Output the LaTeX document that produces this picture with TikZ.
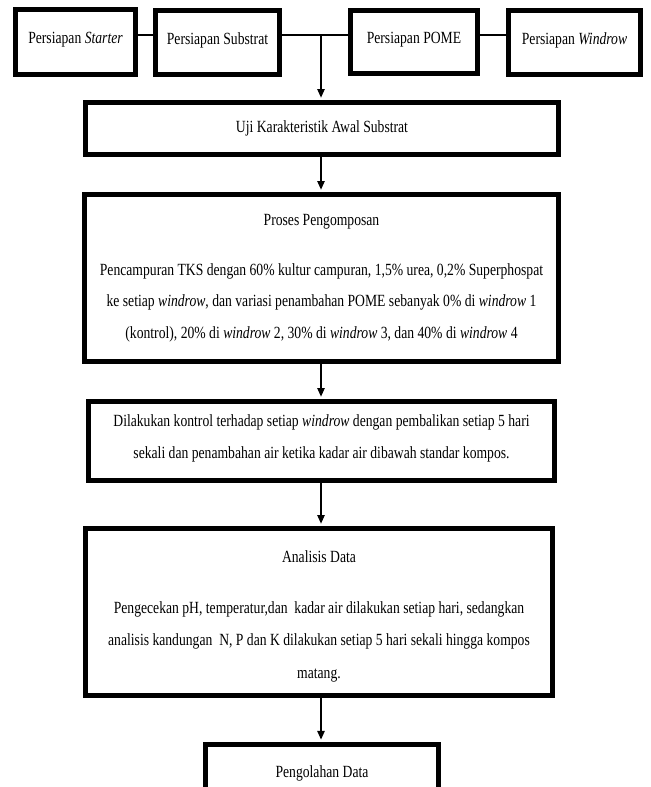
\documentclass[tikz,border=0pt]{standalone}
\usepackage{fontspec}
\setmainfont{Liberation Serif}[FakeStretch=0.8]
\usetikzlibrary{arrows.meta}
\begin{document}
\begin{tikzpicture}[x=0.75pt,y=-0.75pt,
  box/.style={draw=black, line width=3.6pt, fill=white, align=center, inner sep=0pt,
    font=\fontsize{12.8}{23.6}\selectfont},
  wh/.style 2 args={minimum width=#1*0.75pt, minimum height=#2*0.75pt},
  link/.style={line width=1.1pt},
  arr/.style={line width=1.1pt, -{Triangle[length=6.5pt,width=5.5pt]}}]
\useasboundingbox (0,0) rectangle (650,787);
\clip (0,0) rectangle (650,787);
\fill[white] (0,0) rectangle (650,787);

% top row
\node[box, wh={120}{65}] (starter) at (75.5,42) {\raisebox{1.5pt}[\height][\depth]{Persiapan \textit{Starter}}};
\node[box, wh={124}{64}] (substrat) at (217.5,42.5) {\raisebox{1.5pt}[\height][\depth]{Persiapan Substrat}};
\node[box, wh={127}{63}] (pome) at (414,42) {\raisebox{1.5pt}[\height][\depth]{Persiapan POME}};
\node[box, wh={132}{64}] (windrow) at (574.5,42.5) {\raisebox{1.5pt}[\height][\depth]{Persiapan \textit{Windrow}}};

\node[box, wh={473}{52}] (uji) at (322,128.5) {Uji Karakteristik Awal Substrat};

\node[box, wh={474}{167}] (proses) at (321.5,278) {Proses Pengomposan\\[14pt]
Pencampuran TKS dengan 60\% kultur campuran, 1,5\% urea, 0,2\% Superphospat\\
ke setiap \textit{windrow}, dan variasi penambahan POME sebanyak 0\% di \textit{windrow} 1\\
(kontrol), 20\% di \textit{windrow} 2, 30\% di \textit{windrow} 3, dan 40\% di \textit{windrow} 4};

\node[box, wh={466}{79}] (kontrol) at (321.5,441) {\raisebox{3.5pt}[\height][\depth]{\begin{tabular}{@{}c@{}}Dilakukan kontrol terhadap setiap \textit{windrow} dengan pembalikan setiap 5 hari\\[0.5pt]
sekali dan penambahan air ketika kadar air dibawah standar kompos.\end{tabular}}};

\node[box, wh={467}{167}] (analisis) at (319,612) {\raisebox{-1.5pt}[\height][\depth]{\begin{tabular}{@{}c@{}}Analisis Data\\[15pt]
Pengecekan pH, temperatur,dan\ \ kadar air dilakukan setiap hari, sedangkan\\[0.5pt]
analisis kandungan\ \ N, P dan K dilakukan setiap 5 hari sekali hingga kompos\\[1pt]
matang.\end{tabular}}};

\node[box, wh={233}{58}, anchor=north] (olah) at (322,742) {Pengolahan Data};

% connectors
\coordinate (J) at (321,35);
\draw[link] (starter.east |- J) -- (substrat.west |- J);
\draw[link] (substrat.east |- J) -- (pome.west |- J);
\draw[link] (pome.east |- J) -- (windrow.west |- J);
\draw[arr] (J) -- ([yshift=1.8pt]J |- uji.north);
\draw[arr] (uji.south -| J) -- ([yshift=1.8pt]J |- proses.north);
\draw[arr] (proses.south -| J) -- ([yshift=1.8pt]J |- kontrol.north);
\draw[arr] (kontrol.south -| J) -- ([yshift=1.8pt]J |- analisis.north);
\draw[arr] (analisis.south -| J) -- ([yshift=1.8pt]J |- olah.north);
\end{tikzpicture}
\end{document}
